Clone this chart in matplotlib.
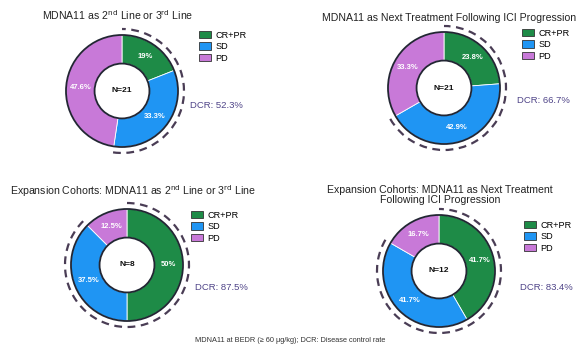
import matplotlib
matplotlib.use("Agg")
import numpy as np
import matplotlib.pyplot as plt
from matplotlib.patches import Arc, Patch, Circle

plt.rcParams['font.family'] = ['Liberation Sans', 'DejaVu Sans']

categories = ["CR+PR", "SD", "PD"]
colors = ["#1e8b47", "#1f95f3", "#c879d8"]

titles = [
    r"MDNA11 as 2$^{\rm nd}$ Line or 3$^{\rm rd}$ Line",
    "MDNA11 as Next Treatment Following ICI Progression",
    r"Expansion Cohorts: MDNA11 as 2$^{\rm nd}$ Line or 3$^{\rm rd}$ Line",
    "Expansion Cohorts: MDNA11 as Next Treatment\nFollowing ICI Progression",
]
values_p1 = [19, 33.3, 47.6]
values_p2 = [23.8, 42.9, 33.3]
values_p3 = [50, 37.5, 12.5]
values_p4 = [41.7, 41.7, 16.7]
n_values = [21, 21, 8, 12]
dcr_values = [52.3, 66.7, 87.5, 83.4]
footnote = "MDNA11 at BEDR (\u2265 60 \u03bcg/kg); DCR: Disease control rate"

W, H = 583, 352
fig = plt.figure(figsize=(W / 100, H / 100), dpi=100)

# layout (pixels)
centers = [(122, 91), (444, 88), (127, 265), (439, 271)]
radius = 56
inner = radius * 0.49
title_pos = [(118, 15), (449, 18), (133, 191), (440, 195)]
legend_pos = [(199, 31), (522, 29), (191, 211), (524, 221)]
dcr_pos = [(190, 105), (517, 100), (195, 287), (520, 287)]
all_values = [values_p1, values_p2, values_p3, values_p4]
edge = "#222633"

def fx(x):
    return x / W

def fy(y):
    return 1 - y / H

for i, vals in enumerate(all_values):
    cx, cy = centers[i]
    box = 80
    ax = fig.add_axes([fx(cx - box), fy(cy + box), 2 * box / W, 2 * box / H])
    wedges, _ = ax.pie(vals, radius=radius, startangle=90, counterclock=False,
                       colors=colors,
                       wedgeprops=dict(width=radius - inner, edgecolor="white",
                                       linewidth=0.6))
    ax.add_patch(Circle((0, 0), radius, fill=False, ec=edge, lw=1.3))
    ax.add_patch(Circle((0, 0), inner, fill=False, ec=edge, lw=1.3))
    start = 90.0
    total = sum(vals)
    for v in vals:
        mid = start - 360 * v / total / 2
        r = (radius + inner) / 2
        ax.text(r * np.cos(np.radians(mid)), r * np.sin(np.radians(mid)),
                f"{v:g}%", color="white", fontsize=5.5, fontweight="bold",
                ha="center", va="center")
        start -= 360 * v / total
    ax.text(0, 0, f"N={n_values[i]}", fontsize=6, fontweight="bold",
            ha="center", va="center", color="#111111")
    d = dcr_values[i]
    arc = Arc((0, 0), 2 * (radius + 6), 2 * (radius + 6),
              theta1=90 - 360 * d / 100, theta2=90,
              color="#4a3d55", lw=1.6, ls=(0, (3.5, 2.5)))
    ax.add_patch(arc)
    ax.set_xlim(-box, box)
    ax.set_ylim(-box, box)
    ax.set_aspect("equal")
    ax.axis("off")

    tx, ty = title_pos[i]
    fig.text(fx(tx), fy(ty), titles[i], ha="center", va="center",
             fontsize=7.6, color="#222222", linespacing=1.1)

    lx, ly = legend_pos[i]
    handles = [Patch(facecolor=c, edgecolor="#333333", linewidth=0.6) for c in colors]
    fig.legend(handles, categories, loc="upper left",
               bbox_to_anchor=(fx(lx), fy(ly)), frameon=False, fontsize=6.6,
               handlelength=1.3, handleheight=0.85, labelspacing=0.25,
               borderpad=0, borderaxespad=0, handletextpad=0.5)

    dx, dy = dcr_pos[i]
    fig.text(fx(dx), fy(dy), f"DCR: {d}%", ha="left", va="center",
             fontsize=6.8, color="#4f4488")

fig.text(fx(290), fy(340), footnote, ha="center", va="center", fontsize=5.3,
         color="#333333")

fig.savefig("out.png", dpi=100)
